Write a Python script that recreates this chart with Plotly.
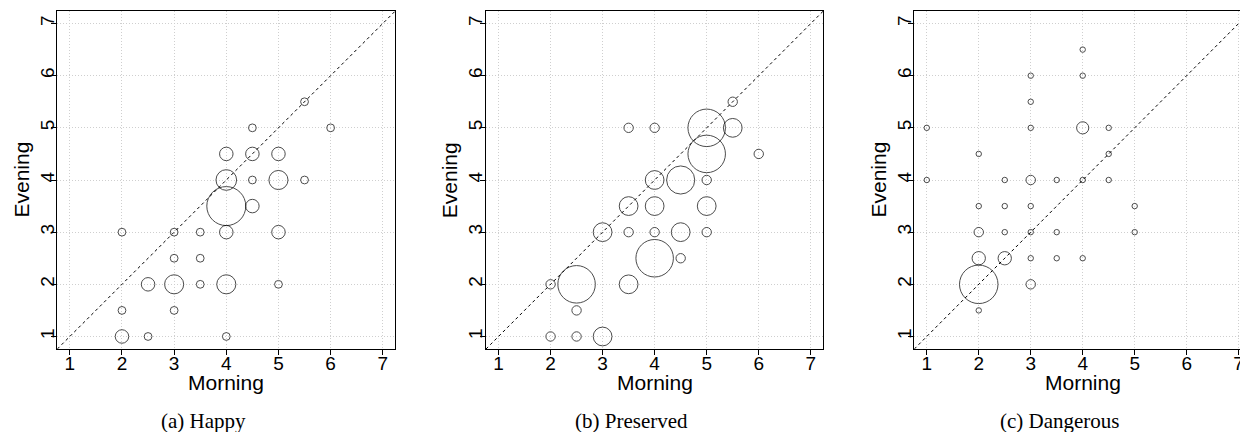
import plotly.graph_objects as go

# page window is 1248x432; the browser body adds an 8px margin
PAGE_W, PAGE_H = 1248, 432
OFF = 8
W, H = PAGE_W - OFF, PAGE_H - OFF

# ---------------- data ----------------
panel_titles = ["(a) Happy", "(b) Preserved", "(c) Dangerous"]
axis_ticks = [1, 2, 3, 4, 5, 6, 7]
x_label = "Morning"
y_label = "Evening"

happy_morning = [5.5, 4.5, 6, 4, 4.5, 5, 4, 4.5, 5, 5.5, 4, 4.5, 2, 3, 3.5, 4, 5,
                 3, 3.5, 2.5, 3, 3.5, 4, 5, 2, 3, 2, 2.5, 4]
happy_evening = [5.5, 5, 5, 4.5, 4.5, 4.5, 4, 4, 4, 4, 3.5, 3.5, 3, 3, 3, 3, 3,
                 2.5, 2.5, 2, 2, 2, 2, 2, 1.5, 1.5, 1, 1, 1]
happy_count = [1, 1, 1, 3, 3, 3, 7, 1, 6, 1, 25, 3, 1, 1, 1, 3, 3,
               1, 1, 3, 6, 1, 6, 1, 1, 1, 3, 1, 1]

preserved_morning = [5.5, 3.5, 4, 5, 5.5, 5, 6, 4, 4.5, 5, 3.5, 4, 5, 3, 3.5, 4, 4.5, 5,
                     4, 4.5, 2, 2.5, 3.5, 2.5, 2, 2.5, 3]
preserved_evening = [5.5, 5, 5, 5, 5, 4.5, 4.5, 4, 4, 4, 3.5, 3.5, 3.5, 3, 3, 3, 3, 3,
                     2.5, 2.5, 2, 2, 2, 1.5, 1, 1, 1]
preserved_count = [1, 1, 1, 16, 4, 16, 1, 4, 9, 1, 4, 4, 4, 4, 1, 1, 4, 1,
                   16, 1, 1, 16, 4, 1, 1, 1, 4]

dangerous_morning = [4, 3, 4, 3, 1, 3, 4, 4.5, 2, 4.5, 1, 2.5, 3, 3.5, 4, 4.5,
                     2, 2.5, 3, 5, 2, 2.5, 3, 3.5, 5, 2, 2.5, 3, 3.5, 4, 2, 3, 2]
dangerous_evening = [6.5, 6, 6, 5.5, 5, 5, 5, 5, 4.5, 4.5, 4, 4, 4, 4, 4, 4,
                     3.5, 3.5, 3.5, 3.5, 3, 3, 3, 3, 3, 2.5, 2.5, 2.5, 2.5, 2.5, 2, 2, 1.5]
dangerous_count = [1, 1, 1, 1, 1, 1, 5, 1, 1, 1, 1, 1, 3, 1, 1, 1,
                   1, 1, 1, 1, 3, 1, 1, 1, 1, 6, 6, 1, 1, 1, 50, 3, 1]

panels = [
    (happy_morning, happy_evening, happy_count),
    (preserved_morning, preserved_evening, preserved_count),
    (dangerous_morning, dangerous_evening, dangerous_count),
]

# ---------------- layout geometry (page pixels) ----------------
box_left = [57.3, 486.0, 914.3]
box_right = [395.3, 823.3, 1248.0]
box_top, box_bottom = 11.0, 349.0
x_ranges = [[0.76, 7.24], [0.76, 7.24], [0.76, 7.18]]
y_range = [0.76, 7.24]
max_diam = [39.0, 37.5, 38.5]


def px(x):
    return (x - OFF) / W


def py(y):
    return 1 - (y - OFF) / H


SANS = "Liberation Sans, Arial, Helvetica, sans-serif"
SERIF = "Liberation Serif, Times New Roman, serif"
GRID = "#cfcfcf"

fig = go.Figure()
annotations = []

for i, (mx, ev, cnt) in enumerate(panels):
    sfx = "" if i == 0 else str(i + 1)
    xa, ya = "x" + sfx, "y" + sfx
    sizeref = 2.0 * max(cnt) / (max_diam[i] ** 2)
    lo = x_ranges[i][0]
    hi = min(x_ranges[i][1], y_range[1])
    # diagonal reference line y = x
    fig.add_trace(go.Scatter(
        x=[lo, hi], y=[lo, hi], mode="lines",
        line=dict(color="black", width=1, dash="3px,3px"),
        xaxis=xa, yaxis=ya, showlegend=False, hoverinfo="skip"))
    fig.add_trace(go.Scatter(
        x=mx, y=ev, mode="markers",
        marker=dict(size=cnt, sizemode="area", sizeref=sizeref, symbol="circle",
                    color="rgba(0,0,0,0)", line=dict(color="black", width=1)),
        xaxis=xa, yaxis=ya, showlegend=False))

    common = dict(
        tickvals=axis_ticks, ticktext=[str(t) for t in axis_ticks],
        ticks="outside", ticklen=5, tickwidth=1, tickcolor="black",
        showline=True, linecolor="black", linewidth=1,
        showgrid=True, gridcolor=GRID, gridwidth=1, griddash="1px,2px",
        zeroline=False, tickfont=dict(family=SANS, size=19, color="black"),
        automargin=False, fixedrange=True,
    )
    fig.layout["xaxis" + sfx] = dict(
        common, domain=[px(box_left[i]), min(1.0, px(box_right[i]))], range=x_ranges[i],
        anchor=ya, mirror=True, ticklabelstandoff=-8)
    fig.layout["yaxis" + sfx] = dict(
        common, domain=[py(box_bottom), py(box_top)], range=y_range,
        anchor=xa, mirror=(i < 2), tickangle=-90, ticklabelstandoff=-10)

    cx = (box_left[i] + box_left[i] + 337.8) / 2
    annotations.append(dict(
        text=x_label, x=px(cx), y=py(382), xref="paper", yref="paper",
        xanchor="center", yanchor="middle", showarrow=False,
        font=dict(family=SANS, size=21, color="black")))
    annotations.append(dict(
        text=y_label, x=px(box_left[i] - 36.8), y=py((box_top + box_bottom) / 2),
        xref="paper", yref="paper", xanchor="center", yanchor="middle",
        textangle=-90, showarrow=False,
        font=dict(family=SANS, size=21, color="black")))
    annotations.append(dict(
        text=panel_titles[i], x=px(box_left[i] + 146), y=py(421),
        xref="paper", yref="paper", xanchor="center", yanchor="middle",
        showarrow=False, font=dict(family=SERIF, size=21, color="black")))

fig.update_layout(
    width=W, height=H,
    margin=dict(l=0, r=0, t=0, b=0),
    paper_bgcolor="white", plot_bgcolor="white",
    annotations=annotations,
    showlegend=False,
)

fig.write_html("out.html")
